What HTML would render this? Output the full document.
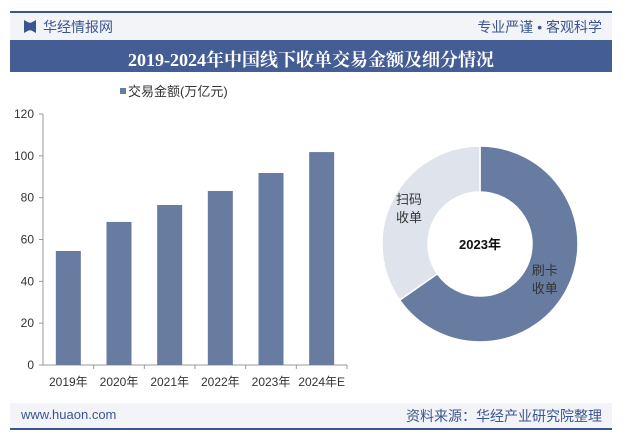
<!DOCTYPE html>
<html><head><meta charset="utf-8"><style>
body{margin:0;width:628px;height:438px;background:#fff;overflow:hidden;font-family:"Liberation Sans","Noto Sans CJK SC",sans-serif;position:relative}
.abs{position:absolute}
</style></head><body>
<div class="abs" style="left:10px;top:11px;width:602px;height:2px;background:#3b5590"></div>
<div class="abs" style="left:10px;top:13px;width:602px;height:27px;background:#f3f4f8"></div>
<div class="abs" style="left:24px;top:20px;width:12px;height:13px;background:#3b5590;clip-path:polygon(0 0,40% 20%,60% 20%,100% 0,100% 100%,60% 80%,40% 80%,0 100%)"></div>
<div class="abs" style="left:43px;top:17px;font-size:14px;color:#3b5590">华经情报网</div>
<div class="abs" style="right:26px;top:17px;font-size:14px;color:#3b5590">专业严谨 • 客观科学</div>
<div class="abs" style="left:10px;top:40px;width:602px;height:32px;background:#445d95"></div>
<div class="abs" style="left:10px;top:46px;width:602px;text-align:center;font-size:18px;font-weight:bold;color:#fff;font-family:'Liberation Serif','Noto Serif CJK SC',serif">2019-2024年中国线下收单交易金额及细分情况</div>
<svg class="abs" style="left:0;top:0" width="628" height="438" id="svg"></svg>
<div class="abs" style="left:10px;top:403px;width:602px;height:26px;background:#f3f4f8"></div>
<div class="abs" style="left:10px;top:428px;width:602px;height:2px;background:#3b5590"></div>
<div class="abs" style="left:21px;top:407px;font-size:13px;color:#3b5590">www.huaon.com</div>
<div class="abs" style="right:26px;top:406px;font-size:14px;color:#3b5590">资料来源：华经产业研究院整理</div>
<script>
const categories=["2019年","2020年","2021年","2022年","2023年","2024年E"];
const values=[54.5,68.4,76.5,83.2,91.8,101.8];
const yTicks=[0,20,40,60,80,100,120];
const pieLabels=["刷卡\n收单","扫码\n收单"];
const pieValues=[65.3,34.7];
const NS="http://www.w3.org/2000/svg";
const svg=document.getElementById('svg');
function mk(t,a,p){const e=document.createElementNS(NS,t);for(const k in a)e.setAttribute(k,a[k]);(p||svg).appendChild(e);return e;}
const x0=43,x1=347,y0=365,y1=114;
const ys=v=>y0-(v/120)*(y0-y1);
const cw=(x1-x0)/categories.length;
let ax=mk('line',{x1:x0,y1:y1,x2:x0,y2:y0,stroke:'#999'});

let bx=mk('line',{x1:x0,y1:y0,x2:x1,y2:y0,stroke:'#999'});

yTicks.forEach(v=>{
 mk('line',{x1:x0-4,y1:ys(v),x2:x0,y2:ys(v),stroke:'#999'});
 const t=mk('text',{x:x0-9,y:ys(v)+4,'text-anchor':'end','font-size':12,fill:'#333'});t.textContent=v;
 
});
categories.forEach((c,i)=>{
 const cx=x0+cw*(i+0.5);
 mk('line',{x1:x0+cw*(i+1),y1:y0,x2:x0+cw*(i+1),y2:y0+4,stroke:'#999'});
 const r=mk('rect',{x:cx-12.5,y:ys(values[i]),width:25,height:y0-ys(values[i]),fill:'#687ba1'});
 
 const t=mk('text',{x:cx,y:y0+21,'text-anchor':'middle','font-size':12,fill:'#333'});t.textContent=c;
 
});
const lr=mk('rect',{x:120,y:88,width:6,height:6,fill:'#687ba1'});

const lt=mk('text',{x:128,y:96,'font-size':13,fill:'#333'});lt.textContent='交易金额(万亿元)';

// donut
const cx=480,cy=244,R=98,r0=52;const cols=['#687ba1','#dfe3ec'];
const tot=pieValues.reduce((a,b)=>a+b,0);let a=0;
pieValues.forEach((v,i)=>{
 const a0=a,a1=a+v/tot*2*Math.PI;a=a1;
 const P=(rad,ang)=>[cx+rad*Math.sin(ang),cy-rad*Math.cos(ang)];
 const lg=(a1-a0)>Math.PI?1:0;
 const [ax0,ay0]=P(R,a0),[ax1,ay1]=P(R,a1),[bx1,by1]=P(r0,a1),[bx0,by0]=P(r0,a0);
 const p=mk('path',{d:`M${ax0},${ay0}A${R},${R} 0 ${lg} 1 ${ax1},${ay1}L${bx1},${by1}A${r0},${r0} 0 ${lg} 0 ${bx0},${by0}Z`,fill:cols[i],stroke:'#fff','stroke-width':1.5});
 
 const mid=(a0+a1)/2;const [lx,ly]=P(i===0?73:80,mid);
 pieLabels[i].split('\n').forEach((s,j)=>{const t=mk('text',{x:lx,y:ly+j*18-3,'text-anchor':'middle','font-size':13,fill:'#333'});t.textContent=s;
 });
});
const ct=mk('text',{x:cx,y:cy+5,'text-anchor':'middle','font-size':13,'font-weight':'bold',fill:'#111'});ct.textContent='2023年';

</script>
</body></html>
